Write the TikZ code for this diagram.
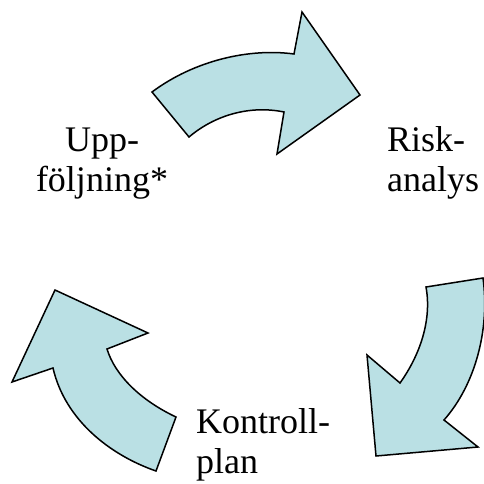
\documentclass[tikz,border=0pt]{standalone}
\usepackage{fontspec}
\setmainfont{Liberation Serif}
\definecolor{arrowfill}{RGB}{186,224,228}
\begin{document}
\begin{tikzpicture}[x=1pt,y=-1pt,
  bigarrow/.style={fill=arrowfill,draw=black,line width=1.5pt,line join=miter},
  lbl/.style={inner sep=0pt,font={\fontsize{36}{40}\selectfont}}]
\useasboundingbox (0,0) rectangle (484,484);
% top arrow
\draw[bigarrow] (152,92) .. controls (195,60) and (250,48) .. (294,54)
  -- (302,12) -- (360,95) -- (277,154) -- (284,112)
  .. controls (250,105) and (215,115) .. (189,137) -- cycle;
% right arrow
\draw[bigarrow] (483,278) .. controls (490,330) and (475,385) .. (444,420)
  -- (478,447) -- (376,456) -- (367,355) -- (400,383)
  .. controls (420,355) and (432,320) .. (426,287) -- cycle;
% left arrow
\draw[bigarrow] (156,471) .. controls (110,455) and (65,420) .. (53,368)
  -- (12,382) -- (55,290) -- (148,333) -- (107,349)
  .. controls (115,375) and (140,400) .. (176,417) -- cycle;
% labels
\node[lbl,anchor=base west] (risk) at (387,151) {\begin{tabular}[t]{@{}l@{}}Risk-\\analys\end{tabular}};
\node[lbl,anchor=base] (upp) at (102,151) {\begin{tabular}[t]{@{}c@{}}Upp-\\följning*\end{tabular}};
\node[lbl,anchor=base west] (kontroll) at (196,433) {\begin{tabular}[t]{@{}l@{}}Kontroll-\\plan\end{tabular}};
\end{tikzpicture}
\end{document}
